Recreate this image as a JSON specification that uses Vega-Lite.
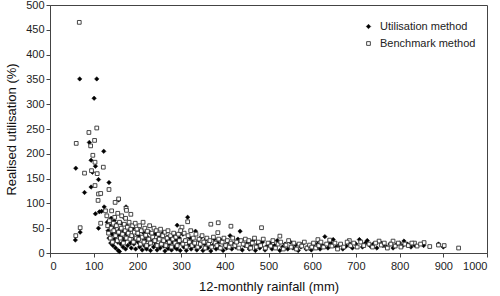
{
  "$schema": "https://vega.github.io/schema/vega-lite/v6.json",
  "width": 437,
  "height": 248,
  "autosize": {"type": "none"},
  "padding": {"left": 50, "top": 5, "right": 13, "bottom": 43},
  "background": "white",
  "config": {
    "view": {"stroke": "#444", "strokeWidth": 1},
    "font": "Liberation Sans",
    "axis": {"domainColor": "#444", "tickColor": "#444", "tickSize": 4, "labelFontSize": 11, "labelColor": "#222", "titleFontSize": 13, "titleFontWeight": "normal", "titleColor": "#111", "grid": false}
  },
  "data": {"values": [
    {"rainfall":68,"utilisation":351,"method":"Utilisation method"},{"rainfall":107,"utilisation":351,"method":"Utilisation method"},{"rainfall":101,"utilisation":312,"method":"Utilisation method"},{"rainfall":90,"utilisation":223,"method":"Utilisation method"},{"rainfall":123,"utilisation":205,"method":"Utilisation method"},{"rainfall":94,"utilisation":187,"method":"Utilisation method"},{"rainfall":104,"utilisation":175,"method":"Utilisation method"},{"rainfall":59,"utilisation":171,"method":"Utilisation method"},{"rainfall":97,"utilisation":163,"method":"Utilisation method"},{"rainfall":111,"utilisation":148,"method":"Utilisation method"},{"rainfall":135,"utilisation":142,"method":"Utilisation method"},{"rainfall":94,"utilisation":133,"method":"Utilisation method"},{"rainfall":79,"utilisation":122,"method":"Utilisation method"},{"rainfall":104,"utilisation":79,"method":"Utilisation method"},{"rainfall":113,"utilisation":83,"method":"Utilisation method"},{"rainfall":118,"utilisation":84,"method":"Utilisation method"},{"rainfall":124,"utilisation":93,"method":"Utilisation method"},{"rainfall":111,"utilisation":50,"method":"Utilisation method"},{"rainfall":58,"utilisation":26,"method":"Utilisation method"},{"rainfall":69,"utilisation":42,"method":"Utilisation method"},{"rainfall":157,"utilisation":107,"method":"Utilisation method"},{"rainfall":174,"utilisation":93,"method":"Utilisation method"},{"rainfall":291,"utilisation":56,"method":"Utilisation method"},{"rainfall":315,"utilisation":72,"method":"Utilisation method"},{"rainfall":435,"utilisation":44,"method":"Utilisation method"},{"rainfall":333,"utilisation":44,"method":"Utilisation method"},
    {"rainfall":131,"utilisation":62,"method":"Utilisation method"},{"rainfall":133,"utilisation":45,"method":"Utilisation method"},{"rainfall":135,"utilisation":30,"method":"Utilisation method"},{"rainfall":137,"utilisation":55,"method":"Utilisation method"},{"rainfall":139,"utilisation":20,"method":"Utilisation method"},{"rainfall":140,"utilisation":70,"method":"Utilisation method"},{"rainfall":142,"utilisation":38,"method":"Utilisation method"},{"rainfall":144,"utilisation":15,"method":"Utilisation method"},{"rainfall":145,"utilisation":50,"method":"Utilisation method"},{"rainfall":147,"utilisation":65,"method":"Utilisation method"},{"rainfall":148,"utilisation":28,"method":"Utilisation method"},{"rainfall":150,"utilisation":10,"method":"Utilisation method"},{"rainfall":151,"utilisation":42,"method":"Utilisation method"},{"rainfall":153,"utilisation":58,"method":"Utilisation method"},{"rainfall":155,"utilisation":22,"method":"Utilisation method"},{"rainfall":156,"utilisation":5,"method":"Utilisation method"},{"rainfall":158,"utilisation":35,"method":"Utilisation method"},{"rainfall":159,"utilisation":3,"method":"Utilisation method"},{"rainfall":160,"utilisation":48,"method":"Utilisation method"},{"rainfall":162,"utilisation":18,"method":"Utilisation method"},{"rainfall":163,"utilisation":60,"method":"Utilisation method"},{"rainfall":165,"utilisation":30,"method":"Utilisation method"},{"rainfall":167,"utilisation":12,"method":"Utilisation method"},{"rainfall":168,"utilisation":44,"method":"Utilisation method"},{"rainfall":170,"utilisation":25,"method":"Utilisation method"},{"rainfall":171,"utilisation":70,"method":"Utilisation method"},{"rainfall":173,"utilisation":8,"method":"Utilisation method"},{"rainfall":175,"utilisation":38,"method":"Utilisation method"},{"rainfall":176,"utilisation":55,"method":"Utilisation method"},{"rainfall":178,"utilisation":15,"method":"Utilisation method"},{"rainfall":180,"utilisation":30,"method":"Utilisation method"},{"rainfall":182,"utilisation":45,"method":"Utilisation method"},{"rainfall":184,"utilisation":20,"method":"Utilisation method"},{"rainfall":186,"utilisation":10,"method":"Utilisation method"},{"rainfall":188,"utilisation":35,"method":"Utilisation method"},{"rainfall":190,"utilisation":50,"method":"Utilisation method"},{"rainfall":192,"utilisation":18,"method":"Utilisation method"},{"rainfall":194,"utilisation":28,"method":"Utilisation method"},{"rainfall":196,"utilisation":8,"method":"Utilisation method"},{"rainfall":198,"utilisation":40,"method":"Utilisation method"},
    {"rainfall":201,"utilisation":22,"method":"Utilisation method"},{"rainfall":203,"utilisation":35,"method":"Utilisation method"},{"rainfall":205,"utilisation":12,"method":"Utilisation method"},{"rainfall":207,"utilisation":45,"method":"Utilisation method"},{"rainfall":209,"utilisation":18,"method":"Utilisation method"},{"rainfall":211,"utilisation":6,"method":"Utilisation method"},{"rainfall":213,"utilisation":30,"method":"Utilisation method"},{"rainfall":215,"utilisation":40,"method":"Utilisation method"},{"rainfall":217,"utilisation":14,"method":"Utilisation method"},{"rainfall":219,"utilisation":25,"method":"Utilisation method"},{"rainfall":221,"utilisation":8,"method":"Utilisation method"},{"rainfall":223,"utilisation":32,"method":"Utilisation method"},{"rainfall":225,"utilisation":16,"method":"Utilisation method"},{"rainfall":228,"utilisation":42,"method":"Utilisation method"},{"rainfall":230,"utilisation":5,"method":"Utilisation method"},{"rainfall":232,"utilisation":22,"method":"Utilisation method"},{"rainfall":235,"utilisation":30,"method":"Utilisation method"},{"rainfall":237,"utilisation":12,"method":"Utilisation method"},{"rainfall":240,"utilisation":38,"method":"Utilisation method"},{"rainfall":242,"utilisation":18,"method":"Utilisation method"},{"rainfall":245,"utilisation":6,"method":"Utilisation method"},{"rainfall":247,"utilisation":28,"method":"Utilisation method"},{"rainfall":250,"utilisation":35,"method":"Utilisation method"},{"rainfall":252,"utilisation":10,"method":"Utilisation method"},{"rainfall":255,"utilisation":20,"method":"Utilisation method"},{"rainfall":258,"utilisation":40,"method":"Utilisation method"},{"rainfall":260,"utilisation":14,"method":"Utilisation method"},{"rainfall":263,"utilisation":4,"method":"Utilisation method"},{"rainfall":265,"utilisation":25,"method":"Utilisation method"},{"rainfall":268,"utilisation":32,"method":"Utilisation method"},{"rainfall":270,"utilisation":9,"method":"Utilisation method"},{"rainfall":273,"utilisation":18,"method":"Utilisation method"},{"rainfall":275,"utilisation":28,"method":"Utilisation method"},{"rainfall":278,"utilisation":6,"method":"Utilisation method"},{"rainfall":280,"utilisation":22,"method":"Utilisation method"},{"rainfall":283,"utilisation":36,"method":"Utilisation method"},{"rainfall":285,"utilisation":12,"method":"Utilisation method"},{"rainfall":288,"utilisation":26,"method":"Utilisation method"},{"rainfall":290,"utilisation":8,"method":"Utilisation method"},{"rainfall":293,"utilisation":18,"method":"Utilisation method"},{"rainfall":296,"utilisation":30,"method":"Utilisation method"},{"rainfall":298,"utilisation":5,"method":"Utilisation method"},
    {"rainfall":301,"utilisation":20,"method":"Utilisation method"},{"rainfall":304,"utilisation":38,"method":"Utilisation method"},{"rainfall":306,"utilisation":12,"method":"Utilisation method"},{"rainfall":309,"utilisation":25,"method":"Utilisation method"},{"rainfall":312,"utilisation":5,"method":"Utilisation method"},{"rainfall":318,"utilisation":16,"method":"Utilisation method"},{"rainfall":320,"utilisation":30,"method":"Utilisation method"},{"rainfall":323,"utilisation":8,"method":"Utilisation method"},{"rainfall":326,"utilisation":22,"method":"Utilisation method"},{"rainfall":330,"utilisation":14,"method":"Utilisation method"},{"rainfall":336,"utilisation":6,"method":"Utilisation method"},{"rainfall":340,"utilisation":26,"method":"Utilisation method"},{"rainfall":343,"utilisation":12,"method":"Utilisation method"},{"rainfall":346,"utilisation":32,"method":"Utilisation method"},{"rainfall":350,"utilisation":5,"method":"Utilisation method"},{"rainfall":354,"utilisation":18,"method":"Utilisation method"},{"rainfall":357,"utilisation":28,"method":"Utilisation method"},{"rainfall":361,"utilisation":10,"method":"Utilisation method"},{"rainfall":365,"utilisation":22,"method":"Utilisation method"},{"rainfall":368,"utilisation":4,"method":"Utilisation method"},{"rainfall":372,"utilisation":15,"method":"Utilisation method"},{"rainfall":376,"utilisation":28,"method":"Utilisation method"},{"rainfall":380,"utilisation":8,"method":"Utilisation method"},{"rainfall":384,"utilisation":20,"method":"Utilisation method"},{"rainfall":388,"utilisation":12,"method":"Utilisation method"},{"rainfall":392,"utilisation":25,"method":"Utilisation method"},{"rainfall":396,"utilisation":5,"method":"Utilisation method"},{"rainfall":400,"utilisation":16,"method":"Utilisation method"},{"rainfall":404,"utilisation":10,"method":"Utilisation method"},{"rainfall":408,"utilisation":22,"method":"Utilisation method"},{"rainfall":412,"utilisation":35,"method":"Utilisation method"},{"rainfall":416,"utilisation":8,"method":"Utilisation method"},{"rainfall":420,"utilisation":18,"method":"Utilisation method"},{"rainfall":425,"utilisation":12,"method":"Utilisation method"},{"rainfall":430,"utilisation":28,"method":"Utilisation method"},{"rainfall":440,"utilisation":6,"method":"Utilisation method"},{"rainfall":445,"utilisation":15,"method":"Utilisation method"},
    {"rainfall":452,"utilisation":20,"method":"Utilisation method"},{"rainfall":456,"utilisation":8,"method":"Utilisation method"},{"rainfall":460,"utilisation":14,"method":"Utilisation method"},{"rainfall":465,"utilisation":25,"method":"Utilisation method"},{"rainfall":470,"utilisation":5,"method":"Utilisation method"},{"rainfall":475,"utilisation":18,"method":"Utilisation method"},{"rainfall":480,"utilisation":10,"method":"Utilisation method"},{"rainfall":486,"utilisation":22,"method":"Utilisation method"},{"rainfall":492,"utilisation":6,"method":"Utilisation method"},{"rainfall":497,"utilisation":14,"method":"Utilisation method"},{"rainfall":503,"utilisation":20,"method":"Utilisation method"},{"rainfall":508,"utilisation":8,"method":"Utilisation method"},{"rainfall":514,"utilisation":15,"method":"Utilisation method"},{"rainfall":520,"utilisation":25,"method":"Utilisation method"},{"rainfall":526,"utilisation":5,"method":"Utilisation method"},{"rainfall":532,"utilisation":12,"method":"Utilisation method"},{"rainfall":538,"utilisation":18,"method":"Utilisation method"},{"rainfall":544,"utilisation":8,"method":"Utilisation method"},{"rainfall":550,"utilisation":22,"method":"Utilisation method"},{"rainfall":556,"utilisation":10,"method":"Utilisation method"},{"rainfall":562,"utilisation":16,"method":"Utilisation method"},{"rainfall":568,"utilisation":5,"method":"Utilisation method"},{"rainfall":574,"utilisation":12,"method":"Utilisation method"},{"rainfall":580,"utilisation":20,"method":"Utilisation method"},{"rainfall":586,"utilisation":8,"method":"Utilisation method"},{"rainfall":592,"utilisation":14,"method":"Utilisation method"},{"rainfall":598,"utilisation":6,"method":"Utilisation method"},
    {"rainfall":605,"utilisation":12,"method":"Utilisation method"},{"rainfall":612,"utilisation":18,"method":"Utilisation method"},{"rainfall":618,"utilisation":8,"method":"Utilisation method"},{"rainfall":624,"utilisation":15,"method":"Utilisation method"},{"rainfall":629,"utilisation":33,"method":"Utilisation method"},{"rainfall":636,"utilisation":10,"method":"Utilisation method"},{"rainfall":642,"utilisation":20,"method":"Utilisation method"},{"rainfall":648,"utilisation":27,"method":"Utilisation method"},{"rainfall":655,"utilisation":12,"method":"Utilisation method"},{"rainfall":662,"utilisation":16,"method":"Utilisation method"},{"rainfall":670,"utilisation":8,"method":"Utilisation method"},{"rainfall":678,"utilisation":14,"method":"Utilisation method"},{"rainfall":685,"utilisation":20,"method":"Utilisation method"},{"rainfall":692,"utilisation":10,"method":"Utilisation method"},{"rainfall":700,"utilisation":18,"method":"Utilisation method"},{"rainfall":708,"utilisation":27,"method":"Utilisation method"},{"rainfall":715,"utilisation":12,"method":"Utilisation method"},{"rainfall":722,"utilisation":20,"method":"Utilisation method"},{"rainfall":726,"utilisation":25,"method":"Utilisation method"},{"rainfall":733,"utilisation":14,"method":"Utilisation method"},{"rainfall":740,"utilisation":18,"method":"Utilisation method"},{"rainfall":748,"utilisation":10,"method":"Utilisation method"},{"rainfall":755,"utilisation":22,"method":"Utilisation method"},{"rainfall":762,"utilisation":15,"method":"Utilisation method"},{"rainfall":770,"utilisation":12,"method":"Utilisation method"},{"rainfall":778,"utilisation":18,"method":"Utilisation method"},{"rainfall":785,"utilisation":10,"method":"Utilisation method"},{"rainfall":792,"utilisation":16,"method":"Utilisation method"},{"rainfall":800,"utilisation":20,"method":"Utilisation method"},{"rainfall":806,"utilisation":14,"method":"Utilisation method"},{"rainfall":810,"utilisation":24,"method":"Utilisation method"},{"rainfall":818,"utilisation":18,"method":"Utilisation method"},{"rainfall":826,"utilisation":12,"method":"Utilisation method"},{"rainfall":834,"utilisation":16,"method":"Utilisation method"},{"rainfall":855,"utilisation":15,"method":"Utilisation method"},{"rainfall":889,"utilisation":18,"method":"Utilisation method"},{"rainfall":900,"utilisation":12,"method":"Utilisation method"},
    {"rainfall":67,"utilisation":465,"method":"Benchmark method"},{"rainfall":107,"utilisation":252,"method":"Benchmark method"},{"rainfall":89,"utilisation":243,"method":"Benchmark method"},{"rainfall":102,"utilisation":227,"method":"Benchmark method"},{"rainfall":60,"utilisation":221,"method":"Benchmark method"},{"rainfall":93,"utilisation":216,"method":"Benchmark method"},{"rainfall":98,"utilisation":197,"method":"Benchmark method"},{"rainfall":103,"utilisation":183,"method":"Benchmark method"},{"rainfall":122,"utilisation":173,"method":"Benchmark method"},{"rainfall":79,"utilisation":161,"method":"Benchmark method"},{"rainfall":95,"utilisation":166,"method":"Benchmark method"},{"rainfall":108,"utilisation":160,"method":"Benchmark method"},{"rainfall":103,"utilisation":136,"method":"Benchmark method"},{"rainfall":135,"utilisation":128,"method":"Benchmark method"},{"rainfall":111,"utilisation":119,"method":"Benchmark method"},{"rainfall":116,"utilisation":120,"method":"Benchmark method"},{"rainfall":110,"utilisation":106,"method":"Benchmark method"},{"rainfall":157,"utilisation":109,"method":"Benchmark method"},{"rainfall":149,"utilisation":102,"method":"Benchmark method"},{"rainfall":174,"utilisation":90,"method":"Benchmark method"},{"rainfall":175,"utilisation":86,"method":"Benchmark method"},{"rainfall":185,"utilisation":78,"method":"Benchmark method"},{"rainfall":127,"utilisation":85,"method":"Benchmark method"},{"rainfall":116,"utilisation":60,"method":"Benchmark method"},{"rainfall":59,"utilisation":35,"method":"Benchmark method"},{"rainfall":69,"utilisation":51,"method":"Benchmark method"},{"rainfall":315,"utilisation":63,"method":"Benchmark method"},{"rainfall":368,"utilisation":58,"method":"Benchmark method"},{"rainfall":385,"utilisation":61,"method":"Benchmark method"},{"rainfall":414,"utilisation":54,"method":"Benchmark method"},{"rainfall":484,"utilisation":51,"method":"Benchmark method"},{"rainfall":302,"utilisation":52,"method":"Benchmark method"},{"rainfall":384,"utilisation":41,"method":"Benchmark method"},{"rainfall":526,"utilisation":34,"method":"Benchmark method"},{"rainfall":613,"utilisation":27,"method":"Benchmark method"},{"rainfall":640,"utilisation":26,"method":"Benchmark method"},{"rainfall":685,"utilisation":25,"method":"Benchmark method"},{"rainfall":753,"utilisation":24,"method":"Benchmark method"},{"rainfall":785,"utilisation":24,"method":"Benchmark method"},{"rainfall":834,"utilisation":20,"method":"Benchmark method"},{"rainfall":856,"utilisation":21,"method":"Benchmark method"},{"rainfall":869,"utilisation":13,"method":"Benchmark method"},{"rainfall":889,"utilisation":16,"method":"Benchmark method"},{"rainfall":902,"utilisation":15,"method":"Benchmark method"},{"rainfall":935,"utilisation":10,"method":"Benchmark method"},
    {"rainfall":130,"utilisation":75,"method":"Benchmark method"},{"rainfall":132,"utilisation":55,"method":"Benchmark method"},{"rainfall":134,"utilisation":40,"method":"Benchmark method"},{"rainfall":136,"utilisation":65,"method":"Benchmark method"},{"rainfall":138,"utilisation":30,"method":"Benchmark method"},{"rainfall":140,"utilisation":50,"method":"Benchmark method"},{"rainfall":141,"utilisation":85,"method":"Benchmark method"},{"rainfall":143,"utilisation":22,"method":"Benchmark method"},{"rainfall":145,"utilisation":60,"method":"Benchmark method"},{"rainfall":146,"utilisation":45,"method":"Benchmark method"},{"rainfall":148,"utilisation":72,"method":"Benchmark method"},{"rainfall":150,"utilisation":35,"method":"Benchmark method"},{"rainfall":152,"utilisation":55,"method":"Benchmark method"},{"rainfall":154,"utilisation":25,"method":"Benchmark method"},{"rainfall":155,"utilisation":80,"method":"Benchmark method"},{"rainfall":157,"utilisation":42,"method":"Benchmark method"},{"rainfall":159,"utilisation":62,"method":"Benchmark method"},{"rainfall":161,"utilisation":30,"method":"Benchmark method"},{"rainfall":163,"utilisation":50,"method":"Benchmark method"},{"rainfall":164,"utilisation":75,"method":"Benchmark method"},{"rainfall":166,"utilisation":38,"method":"Benchmark method"},{"rainfall":168,"utilisation":20,"method":"Benchmark method"},{"rainfall":170,"utilisation":58,"method":"Benchmark method"},{"rainfall":172,"utilisation":45,"method":"Benchmark method"},{"rainfall":173,"utilisation":70,"method":"Benchmark method"},{"rainfall":175,"utilisation":30,"method":"Benchmark method"},{"rainfall":177,"utilisation":52,"method":"Benchmark method"},{"rainfall":179,"utilisation":40,"method":"Benchmark method"},{"rainfall":181,"utilisation":62,"method":"Benchmark method"},{"rainfall":183,"utilisation":28,"method":"Benchmark method"},{"rainfall":185,"utilisation":48,"method":"Benchmark method"},{"rainfall":187,"utilisation":35,"method":"Benchmark method"},{"rainfall":189,"utilisation":55,"method":"Benchmark method"},{"rainfall":191,"utilisation":22,"method":"Benchmark method"},{"rainfall":193,"utilisation":42,"method":"Benchmark method"},{"rainfall":195,"utilisation":60,"method":"Benchmark method"},{"rainfall":197,"utilisation":30,"method":"Benchmark method"},{"rainfall":199,"utilisation":48,"method":"Benchmark method"},
    {"rainfall":201,"utilisation":40,"method":"Benchmark method"},{"rainfall":203,"utilisation":28,"method":"Benchmark method"},{"rainfall":205,"utilisation":55,"method":"Benchmark method"},{"rainfall":207,"utilisation":18,"method":"Benchmark method"},{"rainfall":209,"utilisation":45,"method":"Benchmark method"},{"rainfall":211,"utilisation":32,"method":"Benchmark method"},{"rainfall":213,"utilisation":62,"method":"Benchmark method"},{"rainfall":215,"utilisation":22,"method":"Benchmark method"},{"rainfall":217,"utilisation":50,"method":"Benchmark method"},{"rainfall":219,"utilisation":36,"method":"Benchmark method"},{"rainfall":221,"utilisation":15,"method":"Benchmark method"},{"rainfall":223,"utilisation":44,"method":"Benchmark method"},{"rainfall":226,"utilisation":28,"method":"Benchmark method"},{"rainfall":228,"utilisation":55,"method":"Benchmark method"},{"rainfall":230,"utilisation":20,"method":"Benchmark method"},{"rainfall":233,"utilisation":40,"method":"Benchmark method"},{"rainfall":235,"utilisation":32,"method":"Benchmark method"},{"rainfall":238,"utilisation":50,"method":"Benchmark method"},{"rainfall":240,"utilisation":25,"method":"Benchmark method"},{"rainfall":243,"utilisation":45,"method":"Benchmark method"},{"rainfall":245,"utilisation":15,"method":"Benchmark method"},{"rainfall":248,"utilisation":38,"method":"Benchmark method"},{"rainfall":250,"utilisation":28,"method":"Benchmark method"},{"rainfall":253,"utilisation":48,"method":"Benchmark method"},{"rainfall":255,"utilisation":18,"method":"Benchmark method"},{"rainfall":258,"utilisation":35,"method":"Benchmark method"},{"rainfall":260,"utilisation":25,"method":"Benchmark method"},{"rainfall":263,"utilisation":42,"method":"Benchmark method"},{"rainfall":265,"utilisation":15,"method":"Benchmark method"},{"rainfall":268,"utilisation":30,"method":"Benchmark method"},{"rainfall":270,"utilisation":45,"method":"Benchmark method"},{"rainfall":273,"utilisation":22,"method":"Benchmark method"},{"rainfall":276,"utilisation":35,"method":"Benchmark method"},{"rainfall":278,"utilisation":12,"method":"Benchmark method"},{"rainfall":281,"utilisation":28,"method":"Benchmark method"},{"rainfall":283,"utilisation":40,"method":"Benchmark method"},{"rainfall":286,"utilisation":20,"method":"Benchmark method"},{"rainfall":288,"utilisation":32,"method":"Benchmark method"},{"rainfall":291,"utilisation":15,"method":"Benchmark method"},{"rainfall":294,"utilisation":38,"method":"Benchmark method"},{"rainfall":296,"utilisation":25,"method":"Benchmark method"},{"rainfall":299,"utilisation":45,"method":"Benchmark method"},
    {"rainfall":304,"utilisation":18,"method":"Benchmark method"},{"rainfall":307,"utilisation":40,"method":"Benchmark method"},{"rainfall":310,"utilisation":25,"method":"Benchmark method"},{"rainfall":312,"utilisation":12,"method":"Benchmark method"},{"rainfall":316,"utilisation":35,"method":"Benchmark method"},{"rainfall":319,"utilisation":22,"method":"Benchmark method"},{"rainfall":322,"utilisation":45,"method":"Benchmark method"},{"rainfall":325,"utilisation":15,"method":"Benchmark method"},{"rainfall":328,"utilisation":30,"method":"Benchmark method"},{"rainfall":331,"utilisation":20,"method":"Benchmark method"},{"rainfall":334,"utilisation":38,"method":"Benchmark method"},{"rainfall":338,"utilisation":12,"method":"Benchmark method"},{"rainfall":341,"utilisation":28,"method":"Benchmark method"},{"rainfall":344,"utilisation":18,"method":"Benchmark method"},{"rainfall":348,"utilisation":35,"method":"Benchmark method"},{"rainfall":352,"utilisation":22,"method":"Benchmark method"},{"rainfall":355,"utilisation":10,"method":"Benchmark method"},{"rainfall":359,"utilisation":30,"method":"Benchmark method"},{"rainfall":363,"utilisation":18,"method":"Benchmark method"},{"rainfall":366,"utilisation":25,"method":"Benchmark method"},{"rainfall":370,"utilisation":12,"method":"Benchmark method"},{"rainfall":374,"utilisation":32,"method":"Benchmark method"},{"rainfall":378,"utilisation":20,"method":"Benchmark method"},{"rainfall":382,"utilisation":15,"method":"Benchmark method"},{"rainfall":386,"utilisation":28,"method":"Benchmark method"},{"rainfall":390,"utilisation":10,"method":"Benchmark method"},{"rainfall":394,"utilisation":22,"method":"Benchmark method"},{"rainfall":398,"utilisation":30,"method":"Benchmark method"},{"rainfall":402,"utilisation":15,"method":"Benchmark method"},{"rainfall":406,"utilisation":25,"method":"Benchmark method"},{"rainfall":410,"utilisation":12,"method":"Benchmark method"},{"rainfall":414,"utilisation":20,"method":"Benchmark method"},{"rainfall":418,"utilisation":30,"method":"Benchmark method"},{"rainfall":423,"utilisation":15,"method":"Benchmark method"},{"rainfall":427,"utilisation":22,"method":"Benchmark method"},{"rainfall":432,"utilisation":10,"method":"Benchmark method"},{"rainfall":437,"utilisation":25,"method":"Benchmark method"},{"rainfall":442,"utilisation":18,"method":"Benchmark method"},{"rainfall":447,"utilisation":28,"method":"Benchmark method"},
    {"rainfall":451,"utilisation":15,"method":"Benchmark method"},{"rainfall":455,"utilisation":25,"method":"Benchmark method"},{"rainfall":459,"utilisation":10,"method":"Benchmark method"},{"rainfall":463,"utilisation":20,"method":"Benchmark method"},{"rainfall":468,"utilisation":30,"method":"Benchmark method"},{"rainfall":472,"utilisation":12,"method":"Benchmark method"},{"rainfall":477,"utilisation":22,"method":"Benchmark method"},{"rainfall":482,"utilisation":15,"method":"Benchmark method"},{"rainfall":488,"utilisation":28,"method":"Benchmark method"},{"rainfall":493,"utilisation":10,"method":"Benchmark method"},{"rainfall":499,"utilisation":20,"method":"Benchmark method"},{"rainfall":505,"utilisation":14,"method":"Benchmark method"},{"rainfall":510,"utilisation":25,"method":"Benchmark method"},{"rainfall":516,"utilisation":10,"method":"Benchmark method"},{"rainfall":522,"utilisation":18,"method":"Benchmark method"},{"rainfall":528,"utilisation":22,"method":"Benchmark method"},{"rainfall":534,"utilisation":8,"method":"Benchmark method"},{"rainfall":540,"utilisation":16,"method":"Benchmark method"},{"rainfall":546,"utilisation":25,"method":"Benchmark method"},{"rainfall":552,"utilisation":12,"method":"Benchmark method"},{"rainfall":558,"utilisation":20,"method":"Benchmark method"},{"rainfall":564,"utilisation":8,"method":"Benchmark method"},{"rainfall":570,"utilisation":18,"method":"Benchmark method"},{"rainfall":576,"utilisation":14,"method":"Benchmark method"},{"rainfall":582,"utilisation":22,"method":"Benchmark method"},{"rainfall":588,"utilisation":10,"method":"Benchmark method"},{"rainfall":594,"utilisation":16,"method":"Benchmark method"},{"rainfall":599,"utilisation":12,"method":"Benchmark method"},
    {"rainfall":603,"utilisation":20,"method":"Benchmark method"},{"rainfall":608,"utilisation":10,"method":"Benchmark method"},{"rainfall":615,"utilisation":15,"method":"Benchmark method"},{"rainfall":620,"utilisation":22,"method":"Benchmark method"},{"rainfall":626,"utilisation":12,"method":"Benchmark method"},{"rainfall":633,"utilisation":18,"method":"Benchmark method"},{"rainfall":645,"utilisation":14,"method":"Benchmark method"},{"rainfall":652,"utilisation":20,"method":"Benchmark method"},{"rainfall":658,"utilisation":8,"method":"Benchmark method"},{"rainfall":665,"utilisation":18,"method":"Benchmark method"},{"rainfall":672,"utilisation":12,"method":"Benchmark method"},{"rainfall":680,"utilisation":22,"method":"Benchmark method"},{"rainfall":688,"utilisation":15,"method":"Benchmark method"},{"rainfall":695,"utilisation":20,"method":"Benchmark method"},{"rainfall":703,"utilisation":12,"method":"Benchmark method"},{"rainfall":711,"utilisation":22,"method":"Benchmark method"},{"rainfall":718,"utilisation":15,"method":"Benchmark method"},{"rainfall":730,"utilisation":18,"method":"Benchmark method"},{"rainfall":738,"utilisation":12,"method":"Benchmark method"},{"rainfall":745,"utilisation":20,"method":"Benchmark method"},{"rainfall":758,"utilisation":16,"method":"Benchmark method"},{"rainfall":765,"utilisation":20,"method":"Benchmark method"},{"rainfall":772,"utilisation":10,"method":"Benchmark method"},{"rainfall":780,"utilisation":18,"method":"Benchmark method"},{"rainfall":790,"utilisation":14,"method":"Benchmark method"},{"rainfall":797,"utilisation":20,"method":"Benchmark method"},{"rainfall":803,"utilisation":12,"method":"Benchmark method"},{"rainfall":812,"utilisation":18,"method":"Benchmark method"},{"rainfall":820,"utilisation":15,"method":"Benchmark method"},{"rainfall":828,"utilisation":20,"method":"Benchmark method"},{"rainfall":840,"utilisation":14,"method":"Benchmark method"},{"rainfall":848,"utilisation":18,"method":"Benchmark method"}
  ]},
  "mark": {"type": "point", "filled": true, "opacity": 1},
  "encoding": {
    "x": {"field": "rainfall", "type": "quantitative", "scale": {"domain": [0, 1000], "nice": false}, "axis": {"values": [0,100,200,300,400,500,600,700,800,900,1000], "format": "d", "title": "12-monthly rainfall (mm)", "labelPadding": 3, "titlePadding": 9}},
    "y": {"field": "utilisation", "type": "quantitative", "scale": {"domain": [0, 500], "nice": false}, "axis": {"values": [0,50,100,150,200,250,300,350,400,450,500], "format": "d", "title": "Realised utilisation (%)", "labelPadding": 2, "titlePadding": 7}},
    "shape": {"field": "method", "type": "nominal", "scale": {"domain": ["Utilisation method", "Benchmark method"], "range": ["diamond", "square"]}, "legend": {"title": null, "orient": "none", "legendX": 313, "legendY": 16, "labelFontSize": 11, "labelColor": "#222", "rowPadding": 5, "labelOffset": 6, "padding": 0}},
    "fill": {"field": "method", "type": "nominal", "scale": {"domain": ["Utilisation method", "Benchmark method"], "range": ["#000000", "#ffffff"]}},
    "stroke": {"field": "method", "type": "nominal", "scale": {"domain": ["Utilisation method", "Benchmark method"], "range": ["#000000", "#333333"]}},
    "size": {"field": "method", "type": "nominal", "scale": {"domain": ["Utilisation method", "Benchmark method"], "range": [20, 14]}},
    "strokeWidth": {"field": "method", "type": "nominal", "scale": {"domain": ["Utilisation method", "Benchmark method"], "range": [0.5, 0.9]}}
  }
}
